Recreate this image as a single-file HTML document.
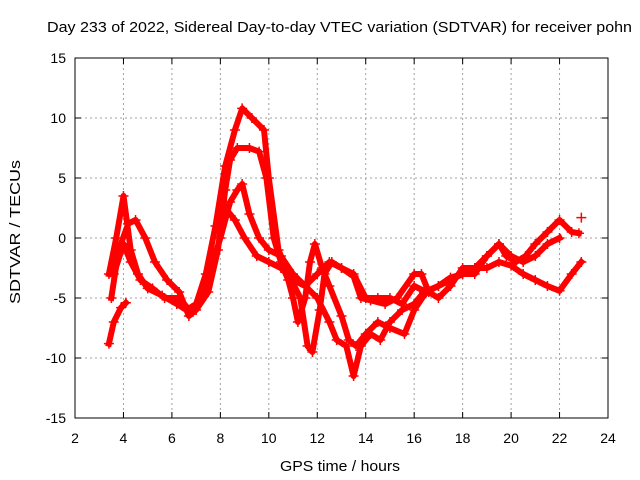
<!DOCTYPE html>
<html><head><meta charset="utf-8"><style>
html,body{margin:0;padding:0;background:#fff;}
svg{display:block;font-family:"Liberation Sans",sans-serif;}
</style></head><body>
<svg id="chart" width="640" height="480">
<rect width="640" height="480" fill="#fff"/>
<g id="grid"></g>
<g id="series"></g>
<rect x="75" y="58" width="533" height="360" fill="none" stroke="#000" stroke-width="1"/>
<g id="axes" font-size="14" fill="#000"></g>
<text x="47" y="32" font-size="15" textLength="585" lengthAdjust="spacingAndGlyphs">Day 233 of 2022, Sidereal Day-to-day VTEC variation (SDTVAR) for receiver pohn</text>
<text x="280" y="471" font-size="15" textLength="120" lengthAdjust="spacingAndGlyphs">GPS time / hours</text>
<text transform="translate(20,304) rotate(-90)" font-size="15" textLength="144" lengthAdjust="spacingAndGlyphs">SDTVAR / TECUs</text>
</svg>
<script>
const xTicks=[2,4,6,8,10,12,14,16,18,20,22,24];
const yTicks=[-15,-10,-5,0,5,10,15];
const s1t=[3.4,3.6,3.9,4.1];
const s1v=[-8.8,-7,-5.8,-5.4];
const s2t=[3.4,3.7,4.0,4.3,4.6,5.0,5.6,6.2,6.6,7.0,7.4,7.8,8.2,8.6,8.9,9.3,9.8,10.0,10.4,10.8,11.3,11.6,11.8,12.1,12.3,12.6,13,13.5,13.8,14.2,14.8,15.3,16,16.3,16.6,17,17.5,18,18.5,19,19.5,19.8,20.2,20.6,21,21.5,22,22.5,22.8];
const s2v=[-3,0,3.5,-1,-3,-4.2,-4.8,-5.5,-6,-5.5,-3,1,6,9,10.8,10,9,5,-1,-3,-5,-9,-9.5,-6,-3,-2,-2.5,-3.2,-5,-5.2,-5.5,-5,-3,-3,-4.5,-5,-4,-2.5,-2.5,-1.5,-0.5,-1.5,-2,-1.5,-0.5,0.5,1.5,0.5,0.4];
const s3t=[3.5,3.8,4.2,4.5,4.9,5.3,5.8,6.3,6.7,7.0,7.5,7.9,8.2,8.4,8.7,9.2,9.6,9.9,10.2,10.5,10.8,11.0,11.2,11.5,11.7,11.9,12.2,12.5,13.0,13.3,13.6,14.0,14.5,15.0,15.6,16.0,16.5,17,17.5,18,18.5,19,19.5,20,20.5,21,21.5,22,22.5,22.9];
const s3v=[-5,-1,1.2,1.5,0,-2,-3.5,-4.5,-6.5,-6,-4.5,-1,4,6.5,7.5,7.5,7.2,5,0,-2,-3.5,-5,-7,-5,-2,-0.5,-2.5,-4,-6.5,-8.5,-9,-8,-7,-7.5,-8,-6,-4.5,-4,-3.5,-3,-2.5,-2.5,-2,-2.3,-3,-3.5,-4,-4.4,-3,-2];
const s4t=[3.6,4.0,4.3,4.7,5.2,5.7,6.3,6.8,7.2,7.6,8.0,8.4,8.7,8.9,9.2,9.6,10.0,10.5,11,11.5,12,12.5,12.8,13.2,13.5,13.8,14.2,14.6,15,15.5,16,16.4,17,17.5,18,18.5,19,19.5,20,20.5,21,21.5,22];
const s4v=[-3,-0.5,-2,-3.5,-4.2,-5,-5,-6.2,-5,-2.5,0,3,4,4.5,2,0,-1,-1.5,-3,-4,-5,-7,-8.5,-9,-11.5,-9,-8,-8.5,-7,-6,-5.5,-4.5,-4,-3.3,-3,-3,-1.5,-0.5,-1.5,-2,-1.5,-0.5,0];
const s5t=[8.2,8.6,9.0,9.5,10,10.5,11,11.5,12,12.5,13,13.5,14,14.5,15,15.5,16,16.5];
const s5v=[2.5,1.5,0,-1.5,-2,-2.5,-3.5,-4,-3,-2,-2.5,-3,-5,-5,-5,-5.5,-4,-4.5];
const s6t=[22.9];
const s6v=[1.7];
const X=t=>75+(t-2)*(533/22);
const Y=v=>238-v*12;
const NS="http://www.w3.org/2000/svg";
const grid=document.getElementById('grid'),axes=document.getElementById('axes'),ser=document.getElementById('series');
function mk(tag,attrs,parent){const e=document.createElementNS(NS,tag);for(const k in attrs)e.setAttribute(k,attrs[k]);parent.appendChild(e);return e;}
xTicks.forEach(t=>{
  const x=X(t);
  if(t>2&&t<24){const g=mk('line',{x1:x,x2:x,y1:58,y2:418,stroke:'#a0a0a0','stroke-dasharray':'2,3'},grid);
  
  }
  mk('line',{x1:x,x2:x,y1:418,y2:412,stroke:'#000'},axes);
  mk('line',{x1:x,x2:x,y1:58,y2:64,stroke:'#000'},axes);
  const l=mk('text',{x:x,y:443,'text-anchor':'middle'},axes);l.textContent=t;
  
  
});
yTicks.forEach(v=>{
  const y=Y(v);
  if(v>-15&&v<15){const g=mk('line',{x1:75,x2:608,y1:y,y2:y,stroke:'#a0a0a0','stroke-dasharray':'2,3'},grid);
  
  }
  mk('line',{x1:75,x2:81,y1:y,y2:y,stroke:'#000'},axes);
  mk('line',{x1:602,x2:608,y1:y,y2:y,stroke:'#000'},axes);
  const l=mk('text',{x:66,y:y+5,'text-anchor':'end'},axes);l.textContent=v;
  
  
});
[[s1t,s1v],[s2t,s2v],[s3t,s3v],[s4t,s4v],[s5t,s5v],[s6t,s6v]].forEach(([ts,vs],i)=>{
  const pts=ts.map((t,j)=>X(t).toFixed(1)+','+Y(vs[j]).toFixed(1)).join(' ');
  const p=mk('polyline',{points:pts,fill:'none',stroke:'#f00','stroke-width':6,'stroke-linejoin':'round','stroke-linecap':'square'},ser);
  
  
  ts.forEach((t,j)=>{
    const x=X(t),y=Y(vs[j]);
    const m=mk('path',{d:`M${x-5},${y}h10M${x},${y-5}v10`,stroke:'#f00','stroke-width':1.5},ser);
    
    
  });
});
</script>
</body></html>
